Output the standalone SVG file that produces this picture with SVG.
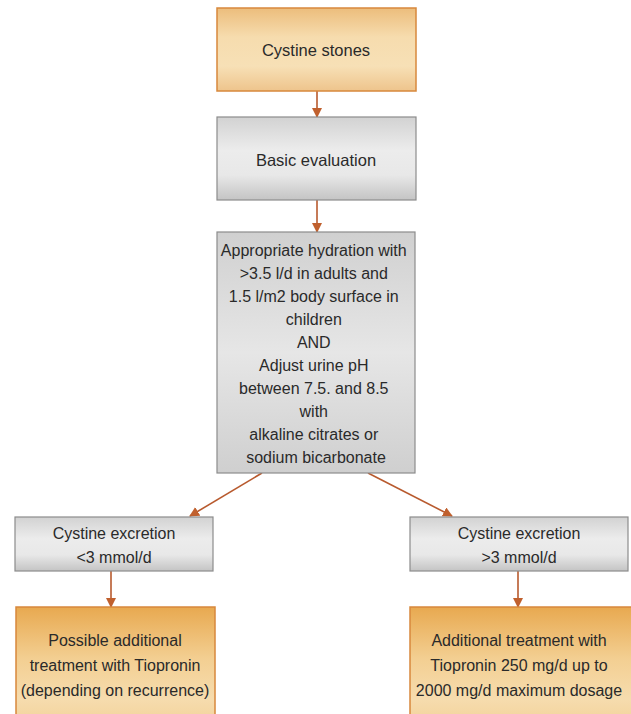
<svg xmlns="http://www.w3.org/2000/svg" width="631" height="714" viewBox="0 0 631 714">
<defs>
<linearGradient id="gOr1" x1="0" y1="0" x2="0" y2="1">
<stop offset="0" stop-color="#ecbd7c"/><stop offset="0.35" stop-color="#f6dcae"/><stop offset="0.7" stop-color="#f7e0b6"/><stop offset="1" stop-color="#eec48c"/>
</linearGradient>
<linearGradient id="gOr2" x1="0" y1="0" x2="0" y2="1">
<stop offset="0" stop-color="#e8a950"/><stop offset="0.45" stop-color="#f3cf92"/><stop offset="0.8" stop-color="#f6dcae"/><stop offset="1" stop-color="#f3d39c"/>
</linearGradient>
<linearGradient id="gGr" x1="0" y1="0" x2="0" y2="1">
<stop offset="0" stop-color="#d2d2d2"/><stop offset="0.4" stop-color="#ececec"/><stop offset="0.7" stop-color="#e8e8e8"/><stop offset="1" stop-color="#c4c4c4"/>
</linearGradient>
<linearGradient id="gGr3" x1="0" y1="0" x2="0" y2="1">
<stop offset="0" stop-color="#d0d0d0"/><stop offset="0.5" stop-color="#e6e6e6"/><stop offset="1" stop-color="#cfcfcf"/>
</linearGradient>
<marker id="ah" viewBox="0 0 10 10" refX="9" refY="5" markerWidth="10" markerHeight="10" markerUnits="userSpaceOnUse" orient="auto">
<path d="M0,0 L10,5 L0,10 z" fill="#c0602e"/>
</marker>
<style>
.or{fill:url(#gOr1);stroke:#d7883c;stroke-width:1.5}
.or2{fill:url(#gOr2);stroke:#d7883c;stroke-width:1.5}
.gr{fill:url(#gGr);stroke:#8c8c8c;stroke-width:1.2}
.gr3{fill:url(#gGr3);stroke:#8c8c8c;stroke-width:1.2}
text{font-family:"Liberation Sans",Arial,sans-serif;fill:#2a2a2a;text-anchor:middle}
.t15{font-size:16.5px}
.t16{font-size:16px}
.c{stroke:#b85a2e;stroke-width:1.6;fill:none;marker-end:url(#ah)}
</style>
</defs>
<g id="connectors">
<line class="c" x1="317" y1="91" x2="317" y2="117"/>
<line class="c" x1="317" y1="200" x2="317" y2="232"/>
<line class="c" x1="262" y1="473" x2="190" y2="516"/>
<line class="c" x1="368" y1="473" x2="452" y2="516"/>
<line class="c" x1="111" y1="571" x2="111" y2="607"/>
<line class="c" x1="518" y1="571" x2="518" y2="607"/>
</g>
<g id="n1">
<rect class="or" x="217" y="8" width="199" height="83"/>
<text class="t15" x="316" y="56">Cystine stones</text>
</g>
<g id="n2">
<rect class="gr" x="217" y="117" width="199" height="83"/>
<text class="t15" x="316" y="166">Basic evaluation</text>
</g>
<g id="n3">
<rect class="gr3" x="217" y="232" width="198" height="241"/>
<text class="t16">
<tspan x="316" y="256">Appropriate hydration with</tspan>
<tspan x="316" y="279">&gt;3.5 l/d in adults and</tspan>
<tspan x="316" y="302">1.5 l/m2 body surface in</tspan>
<tspan x="316" y="325">children</tspan>
<tspan x="316" y="348">AND</tspan>
<tspan x="316" y="371">Adjust urine pH</tspan>
<tspan x="316" y="394">between 7.5. and 8.5</tspan>
<tspan x="316" y="417">with</tspan>
<tspan x="316" y="440">alkaline citrates or</tspan>
<tspan x="316" y="463">sodium bicarbonate</tspan>
</text>
</g>
<g id="n4">
<rect class="gr" x="15" y="517" width="198" height="54"/>
<text class="t16"><tspan x="114" y="539">Cystine excretion</tspan><tspan x="114" y="563">&lt;3 mmol/d</tspan></text>
</g>
<g id="n5">
<rect class="gr" x="410" y="517" width="218" height="54"/>
<text class="t16"><tspan x="519" y="539">Cystine excretion</tspan><tspan x="519" y="563">&gt;3 mmol/d</tspan></text>
</g>
<g id="n6">
<rect class="or2" x="16" y="607" width="199" height="115"/>
<text class="t16"><tspan x="115" y="646">Possible additional</tspan><tspan x="115" y="671">treatment with Tiopronin</tspan><tspan x="115" y="696">(depending on recurrence)</tspan></text>
</g>
<g id="n7">
<rect class="or2" x="410" y="607" width="230" height="115"/>
<text class="t16"><tspan x="519" y="646">Additional treatment with</tspan><tspan x="519" y="671">Tiopronin 250 mg/d up to</tspan><tspan x="519" y="696">2000 mg/d maximum dosage</tspan></text>
</g>
</svg>
